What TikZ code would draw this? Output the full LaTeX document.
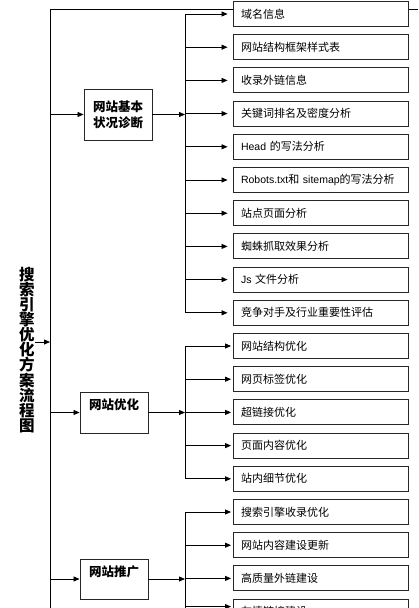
\documentclass[tikz,border=0pt]{standalone}
\usepackage{fontspec}
\setmainfont{Noto Sans CJK SC}
\newfontfamily\latinfont{Liberation Sans}
\newcommand{\lat}[1]{{\latinfont\fontsize{10.5}{13}\selectfont #1}}
\usetikzlibrary{arrows.meta}

\begin{document}
\begin{tikzpicture}[x=1pt, y=-1pt,
  itembox/.style={draw=black!85, line width=0.9pt, fill=white, minimum height=25pt, text width=159pt, inner xsep=8pt, inner ysep=0pt, align=left, font=\fontsize{11}{13}\selectfont},
  mainbox/.style={draw=black!85, line width=0.9pt, fill=white, minimum width=68pt, inner sep=1pt, align=center, font=\fontsize{12.5}{16}\selectfont\bfseries},
  titlebox/.style={inner sep=0pt, align=center, font=\fontsize{15.5}{15.1}\selectfont\bfseries},
  link/.style={line width=0.8pt},
  arr/.style={line width=0.8pt, -{Triangle[length=6pt,width=5pt]}}]
\useasboundingbox (0, 0) rectangle (418, 608);

% Main trunk and the line across the top
\coordinate (trunk) at (50, 9);
\coordinate (trunkend) at (50, 608);
\coordinate (topright) at (418, 9);
\draw[link] (trunk) -- (topright);
\draw[link] (trunk) -- (trunkend);

% Title
\node[titlebox] (title) at (27, 350) {搜\\索\\引\\擎\\优\\化\\方\\案\\流\\程\\图};
\coordinate (tarrow) at ([yshift=8pt]title.east);
\draw[arr] (tarrow) -- (tarrow -| trunk);

% The three main steps
\node[mainbox, minimum height=51pt] (diag) at (118, 114.5) {网站基本\\状况诊断};
\node[mainbox, minimum height=41pt] (opt) at (114, 412.5) {网站优化\\~};
\node[mainbox, minimum height=40pt] (promo) at (114, 579) {网站推广\\~};
\draw[arr] (diag -| trunk) -- (diag.west);
\draw[arr] (opt -| trunk) -- (opt.west);
\draw[arr] (promo -| trunk) -- (promo.west);

% Items
\node[itembox] (b1) at (320.5, 14.0) {域名信息};
\node[itembox] (b2) at (320.5, 47.2) {网站结构框架样式表};
\node[itembox] (b3) at (320.5, 80.4) {收录外链信息};
\node[itembox] (b4) at (320.5, 113.6) {关键词排名及密度分析};
\node[itembox] (b5) at (320.5, 146.8) {\lat{Head} 的写法分析};
\node[itembox] (b6) at (320.5, 180.0) {\lat{Robots.txt}和 \lat{sitemap}的写法分析};
\node[itembox] (b7) at (320.5, 213.2) {站点页面分析};
\node[itembox] (b8) at (320.5, 246.4) {蜘蛛抓取效果分析};
\node[itembox] (b9) at (320.5, 279.6) {\lat{Js} 文件分析};
\node[itembox] (b10) at (320.5, 312.8) {竞争对手及行业重要性评估};
\node[itembox] (b11) at (320.5, 346.0) {网站结构优化};
\node[itembox] (b12) at (320.5, 379.2) {网页标签优化};
\node[itembox] (b13) at (320.5, 412.4) {超链接优化};
\node[itembox] (b14) at (320.5, 445.6) {页面内容优化};
\node[itembox] (b15) at (320.5, 478.8) {站内细节优化};
\node[itembox] (b16) at (320.5, 512.0) {搜索引擎收录优化};
\node[itembox] (b17) at (320.5, 545.2) {网站内容建设更新};
\node[itembox] (b18) at (320.5, 578.4) {高质量外链建设};
\node[itembox] (b19) at (320.5, 611.6) {友情链接建设};

% Branches
\coordinate (branch) at (185, 9);
\coordinate (branchend) at (185, 608);
\draw[arr] (diag.east) -- (diag -| branch);
\draw[arr] (opt.east) -- (opt -| branch);
\draw[arr] (promo.east) -- (promo -| branch);
\draw[link] (b1 -| branch) -- (b10 -| branch);
\draw[link] (b11 -| branch) -- (b15 -| branch);
\draw[link] (b16 -| branch) -- (branchend);

\draw[arr, shorten >=5pt] (b1 -| branch) -- (b1.west);
\draw[arr, shorten >=5pt] (b2 -| branch) -- (b2.west);
\draw[arr, shorten >=5pt] (b3 -| branch) -- (b3.west);
\draw[arr, shorten >=5pt] (b4 -| branch) -- (b4.west);
\draw[arr, shorten >=5pt] (b5 -| branch) -- (b5.west);
\draw[arr, shorten >=5pt] (b6 -| branch) -- (b6.west);
\draw[arr, shorten >=5pt] (b7 -| branch) -- (b7.west);
\draw[arr, shorten >=5pt] (b8 -| branch) -- (b8.west);
\draw[arr, shorten >=5pt] (b9 -| branch) -- (b9.west);
\draw[arr, shorten >=5pt] (b10 -| branch) -- (b10.west);
\draw[arr, shorten >=1.5pt] (b11 -| branch) -- (b11.west);
\draw[arr, shorten >=1.5pt] (b12 -| branch) -- (b12.west);
\draw[arr, shorten >=1.5pt] (b13 -| branch) -- (b13.west);
\draw[arr, shorten >=1.5pt] (b14 -| branch) -- (b14.west);
\draw[arr, shorten >=1.5pt] (b15 -| branch) -- (b15.west);
\draw[arr, shorten >=1.5pt] (b16 -| branch) -- (b16.west);
\draw[arr, shorten >=1.5pt] (b17 -| branch) -- (b17.west);
\draw[arr, shorten >=1.5pt] (b18 -| branch) -- (b18.west);
\coordinate (lastarrow) at ([yshift=5pt]b19.west);
\draw[arr, shorten >=1.5pt] (lastarrow -| branch) -- (lastarrow);
\end{tikzpicture}
\end{document}
